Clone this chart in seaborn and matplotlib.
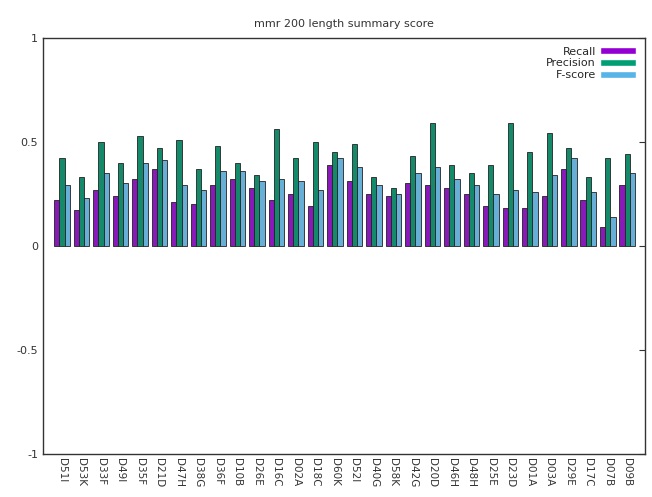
import pandas as pd
import matplotlib
matplotlib.use('Agg')
import matplotlib.pyplot as plt
import matplotlib.patches as mpatches
import seaborn as sns

# Data
samples = ['D51I', 'D53K', 'D33F', 'D49I', 'D35F', 'D21D', 'D47H', 'D38G', 'D36F', 'D10B',
           'D26E', 'D16C', 'D02A', 'D18C', 'D60K', 'D52I', 'D40G', 'D58K', 'D42G', 'D20D',
           'D46H', 'D48H', 'D25E', 'D23D', 'D01A', 'D03A', 'D29E', 'D17C', 'D07B', 'D09B']
recall = [0.22, 0.17, 0.27, 0.24, 0.32, 0.37, 0.21, 0.20, 0.29, 0.32,
          0.28, 0.22, 0.25, 0.19, 0.39, 0.31, 0.25, 0.24, 0.30, 0.29,
          0.28, 0.25, 0.19, 0.18, 0.18, 0.24, 0.37, 0.22, 0.09, 0.29]
precision = [0.42, 0.33, 0.50, 0.40, 0.53, 0.47, 0.51, 0.37, 0.48, 0.40,
             0.34, 0.56, 0.42, 0.50, 0.45, 0.49, 0.33, 0.28, 0.43, 0.59,
             0.39, 0.35, 0.39, 0.59, 0.45, 0.54, 0.47, 0.33, 0.42, 0.44]
fscore = [0.29, 0.23, 0.35, 0.30, 0.40, 0.41, 0.29, 0.27, 0.36, 0.36,
          0.31, 0.32, 0.31, 0.27, 0.42, 0.38, 0.29, 0.25, 0.35, 0.38,
          0.32, 0.29, 0.25, 0.27, 0.26, 0.34, 0.42, 0.26, 0.14, 0.35]
metrics = ['Recall', 'Precision', 'F-score']
colors = ['#9400d3', '#009e73', '#56b4e9']

df = pd.DataFrame({'sample': samples, 'Recall': recall,
                   'Precision': precision, 'F-score': fscore})
long_df = df.melt(id_vars='sample', value_vars=metrics, var_name='metric', value_name='score')

sns.set_style('white')
fig, ax = plt.subplots(figsize=(6.52, 4.97), dpi=100)
fig.subplots_adjust(left=0.066, right=0.989, top=0.924, bottom=0.087)

sns.barplot(data=long_df, x='sample', y='score', hue='metric', hue_order=metrics,
            palette=colors, width=0.8, edgecolor='#222222', linewidth=0.6,
            legend=False, ax=ax)

ax.set_ylim(-1, 1)
ax.set_xlim(-0.97, 29.9)
ax.set_yticks([-1, -0.5, 0, 0.5, 1])
ax.set_yticklabels(['-1', '-0.5', '0', '0.5', '1'])
ax.tick_params(axis='y', direction='in', length=4, right=True, labelsize=8, colors='#333333')
ax.tick_params(axis='x', length=0, labelsize=7.5, rotation=270, colors='#333333', pad=3)
ax.set_xlabel('')
ax.set_ylabel('')
for s in ax.spines.values():
    s.set_color('#333333')
    s.set_linewidth(1.0)

ax.set_title('mmr 200 length summary score', fontsize=8, color='#333333', pad=8)

handles = [mpatches.Patch(facecolor=c, label=m) for c, m in zip(colors, metrics)]
ax.legend(handles=handles, loc='upper right', frameon=False, markerfirst=False,
          fontsize=8, handlelength=3.2, handleheight=0.6, labelspacing=0.15,
          borderaxespad=0.4, handletextpad=0.4)

fig.savefig('out.png', dpi=100)
